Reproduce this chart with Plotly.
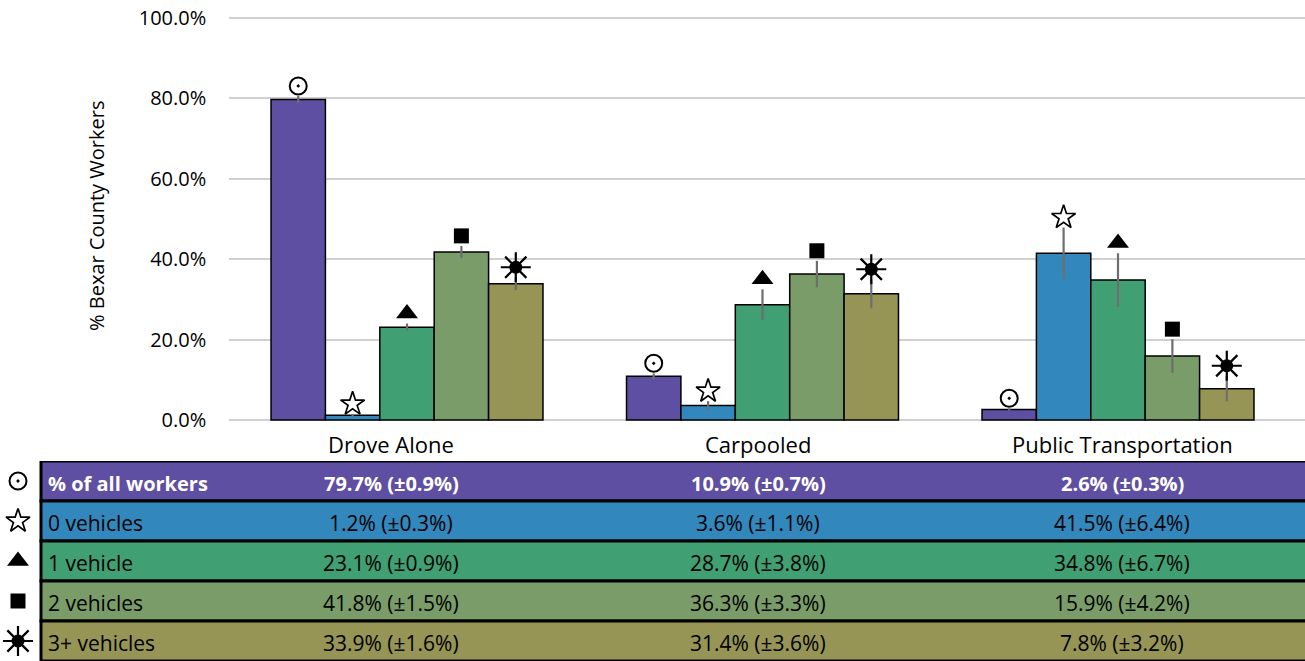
import plotly.graph_objects as go

categories = ["Drove Alone", "Carpooled", "Public Transportation"]
series_names = ["% of all workers", "0 vehicles", "1 vehicle", "2 vehicles", "3+ vehicles"]
values = {
    "% of all workers": [79.7, 10.9, 2.6],
    "0 vehicles": [1.2, 3.6, 41.5],
    "1 vehicle": [23.1, 28.7, 34.8],
    "2 vehicles": [41.8, 36.3, 15.9],
    "3+ vehicles": [33.9, 31.4, 7.8],
}
errors = {
    "% of all workers": [0.9, 0.7, 0.3],
    "0 vehicles": [0.3, 1.1, 6.4],
    "1 vehicle": [0.9, 3.8, 6.7],
    "2 vehicles": [1.5, 3.3, 4.2],
    "3+ vehicles": [1.6, 3.6, 3.2],
}
y_ticks = [0, 20, 40, 60, 80, 100]

colors = ["#5E4FA2", "#3288BD", "#41A073", "#7A9C69", "#969556"]
W, H = 1305, 661
FONT = "Open Sans"

def px_x(p):
    return p / W

def px_y(p):
    return 1 - p / H

bar_w = 0.153
marker_gap = 2.5

fig = go.Figure()
n = len(series_names)
for i, name in enumerate(series_names):
    xs = [c + (i - (n - 1) / 2) * bar_w for c in range(len(categories))]
    fig.add_trace(go.Bar(
        x=xs, y=values[name], width=bar_w, name=name, base=0,
        marker=dict(color=colors[i], line=dict(color="black", width=1.5)),
        error_y=dict(type="data", array=errors[name], visible=True,
                     color="#6e6e6e", thickness=2.2, width=0),
        showlegend=False,
    ))

marker_styles = [
    [dict(symbol="circle-open-dot", size=17, color="black", line=dict(width=2, color="black"))],
    [dict(symbol="star-open", size=18, color="black", line=dict(width=1.7, color="black"))],
    [dict(symbol="triangle-up", size=19, color="black", line=dict(width=0))],
    [dict(symbol="square", size=15, color="black", line=dict(width=0))],
    [dict(symbol="circle", size=13, color="black", line=dict(width=0)),
     dict(symbol="asterisk-open", size=25, color="black", line=dict(width=2.2, color="black"))],
]

for i, name in enumerate(series_names):
    xs = [c + (i - (n - 1) / 2) * bar_w for c in range(len(categories))]
    ys = [v + e + marker_gap for v, e in zip(values[name], errors[name])]
    for st in marker_styles[i]:
        fig.add_trace(go.Scatter(x=xs, y=ys, mode="markers", marker=st,
                                 showlegend=False, cliponaxis=False, hoverinfo="skip"))
    # legend symbols beside table
    for st in marker_styles[i]:
        fig.add_trace(go.Scatter(x=[0], y=[name], mode="markers", marker=st,
                                 xaxis="x2", yaxis="y2", showlegend=False,
                                 cliponaxis=False, hoverinfo="skip"))

# plot geometry
x_left, x_right = 229.25, 1305
ppu = 4.02                      # pixels per percent
y_zero = 420
y_range = [-0.5, 100.5]
y_top = y_zero - y_range[1] * ppu
y_bot = y_zero - y_range[0] * ppu
unit = 355.5
x_range = [-0.5, -0.5 + (x_right - x_left) / unit]

table_top = 461

shapes = []
annotations = []
label_x = [391, 758, 1122]

for i, name in enumerate(series_names):
    shapes.append(dict(type="rect", xref="paper", yref="y2",
                       x0=px_x(41), x1=px_x(1312), y0=i - 0.5, y1=i + 0.5,
                       fillcolor=colors[i], line=dict(color="black", width=3), layer="below"))
    is_first = i == 0
    fcolor = "white" if is_first else "black"
    fw = "bold" if is_first else "normal"
    tfs = 20 if is_first else 21
    annotations.append(dict(xref="paper", yref="y2", x=px_x(46), y=name, text=name,
                            xanchor="left", yanchor="middle", showarrow=False, yshift=-2,
                            font=dict(family=FONT, size=tfs, color=fcolor, weight=fw)))
    for j in range(len(categories)):
        txt = f"{values[name][j]:.1f}% (±{errors[name][j]:.1f}%)"
        annotations.append(dict(xref="paper", yref="y2", x=px_x(label_x[j]), y=name, text=txt,
                                xanchor="center", yanchor="middle", showarrow=False, yshift=-2,
                                font=dict(family=FONT, size=tfs, color=fcolor, weight=fw)))

for j, c in enumerate(categories):
    annotations.append(dict(xref="paper", yref="paper", x=px_x(label_x[j]), y=px_y(444), text=c,
                            xanchor="center", yanchor="middle", showarrow=False,
                            font=dict(family=FONT, size=22, color="black")))

annotations.append(dict(xref="paper", yref="paper", x=px_x(97), y=px_y(216),
                        text="% Bexar County Workers", textangle=-90, showarrow=False,
                        xanchor="center", yanchor="middle",
                        font=dict(family=FONT, size=20, color="black")))

fig.update_layout(
    width=W, height=H,
    margin=dict(l=0, r=0, t=0, b=0, pad=0),
    paper_bgcolor="white", plot_bgcolor="white",
    barmode="overlay",
    font=dict(family=FONT, size=18, color="black"),
    xaxis=dict(domain=[px_x(x_left), px_x(x_right)], range=x_range, automargin=False,
               showticklabels=False, showgrid=False, zeroline=False, showline=False),
    yaxis=dict(domain=[px_y(y_bot), px_y(y_top)], range=y_range, automargin=False,
               tickvals=y_ticks, ticktext=[f"{t:.1f}%" for t in y_ticks],
               showgrid=True, gridcolor="#d0d0d0", gridwidth=2,
               zeroline=False, showline=False,
               ticks="outside", ticklen=18, tickcolor="rgba(0,0,0,0)",
               tickfont=dict(family=FONT, size=20, color="black")),
    xaxis2=dict(domain=[0, px_x(36)], range=[-1, 1], visible=False, automargin=False),
    yaxis2=dict(domain=[0, 1 - table_top / H], anchor="x2", automargin=False,
                type="category", categoryorder="array", categoryarray=series_names,
                range=[len(series_names) - 0.5, -0.5], visible=False),
    shapes=shapes,
    annotations=annotations,
)

fig.write_html("out.html", config={"displayModeBar": False},
               post_script="document.body.style.margin='0';document.body.style.overflow='hidden';")
